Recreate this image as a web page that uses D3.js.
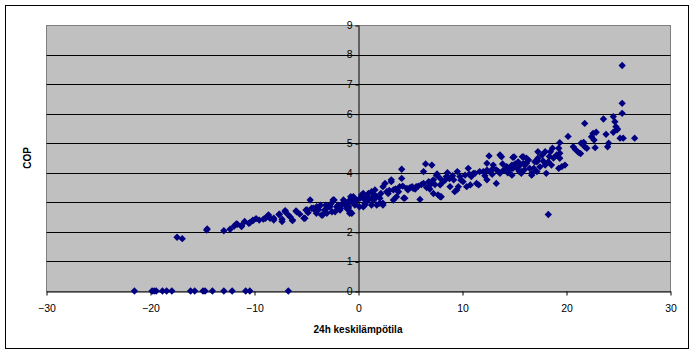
<!DOCTYPE html>
<html>
<head>
<meta charset="utf-8">
<script src="https://cdn.jsdelivr.net/npm/d3@7"></script>
<style>
	body { margin: 0; background: #fff; }
	text { font-family: "Liberation Sans", Arial, sans-serif; }
</style>
</head>
<body>
<div id="chart"></div>
<script>
// days where the pump reported nothing (COP 0)
var zeroTemp = [-21.5, -19.8, -19.6, -19.4, -18.8, -18.4, -17.9, -16.1, -15.7, -14.9, -14.7, -14.0, -12.9, -12.1, -10.8, -10.4, -6.7];

var coldTemp = [-17.4, -16.9, -14.55, -14.5, -12.9, -12.3, -11.9, -11.7, -11.6, -11.2, -11.2, -10.9, -10.5, -10.4, -10.1, -10.1,
	-9.1, -8.9, -8.7, -8.6, -8.46, -8.1, -8.1, -7.6, -7.55, -7.3, -7.3, -7.0, -7.0, -6.7, -6.3, -6.3, -5.96, -5.9, -5.2, -5.1,
	-5.0, -4.9, -4.8, -4.6, -4.45, -4.3, -4.1, -4.0, -3.97, -3.5, -3.4, -3.2, -3.0, -2.85, -2.7, -2.5, -2.4, -2.3, -2.2, -2.05,
	-1.73, -1.7, -1.4, -1.5, -1.25, -1.1, -0.93, -0.93, -0.9, -0.8, -0.77, -0.77, -0.7, -0.6, -0.45, -0.3, -0.29, -0.13,
	-3.8, -3.6, -3.1, -2.6, -1.9, -1.2, -0.5, -6.5, -5.6, -9.5, -9.8];
var coldCop = [1.82, 1.77, 2.06, 2.1, 2.04, 2.09, 2.2, 2.27, 2.26, 2.18, 2.22, 2.35, 2.29, 2.31, 2.38, 2.4,
	2.43, 2.46, 2.54, 2.57, 2.46, 2.4, 2.46, 2.59, 2.6, 2.43, 2.35, 2.68, 2.72, 2.57, 2.4, 2.38, 2.71, 2.68, 2.46, 2.46,
	2.74, 2.74, 2.65, 3.08, 2.8, 2.8, 2.72, 2.63, 2.85, 2.57, 2.57, 2.74, 2.63, 2.85, 2.85, 2.68, 3.08, 3.08, 2.68, 2.85,
	2.74, 2.8, 3.08, 2.95, 3.02, 2.8, 2.8, 2.97, 2.85, 2.63, 2.68, 3.08, 3.19, 2.63, 3.19, 2.91, 3.02, 3.08,
	2.75, 2.9, 2.9, 2.95, 2.9, 2.9, 3.0, 2.5, 2.6, 2.4, 2.45];

var mildTemp = [0.13, 0.2, 0.35, 0.35, 0.5, 0.51, 0.67, 0.67, 0.67, 1.0, 1.0, 1.3, 1.3, 1.3, 1.5, 1.63, 1.8, 1.8, 2.1, 2.1,
	2.4, 2.4, 2.4, 2.6, 2.76, 2.9, 3.2, 3.2, 3.4, 3.4, 3.7, 3.9, 4.0, 4.2, 4.2, 4.4, 4.5, 4.7, 4.8, 5.2,
	5.3, 5.5, 5.6, 5.96, 6.3, 6.3, 6.5, 6.77, 6.8, 7.1, 7.1, 7.25, 7.25, 7.55, 7.6, 7.7, 7.9, 7.9,
	7.9, 8.0, 8.4, 8.5, 8.6, 8.85, 9.2, 9.3, 9.5, 9.55, 9.65, 9.8, 10.1, 10.3, 10.45, 10.6, 10.8, 10.9, 11.1, 11.25,
	0.9, 1.6, 2.2, 3.0, 3.6, 5.0, 5.8, 6.1, 6.6, 7.4, 8.2, 8.8, 9.1, 9.9, 10.7, 4.3, 6.9];
var mildCop = [2.85, 3.14, 3.25, 3.19, 3.3, 2.85, 3.08, 2.97, 2.91, 3.3, 3.08, 3.14, 3.36, 2.91, 3.08, 3.42, 2.91, 3.19, 3.14, 2.97,
	2.91, 3.53, 2.97, 3.64, 3.36, 3.3, 3.76, 3.7, 3.42, 3.08, 3.19, 3.36, 3.53, 3.81, 4.12, 3.14, 3.14, 3.47, 3.42, 3.53,
	3.47, 3.45, 3.53, 3.1, 4.04, 3.64, 4.3, 3.53, 3.7, 4.26, 3.64, 3.76, 3.3, 3.92, 3.96, 3.25, 3.59, 3.19,
	3.81, 3.19, 3.76, 3.87, 4.0, 3.53, 3.76, 3.36, 3.42, 4.04, 3.53, 3.87, 3.7, 3.92, 3.53, 4.15, 3.59, 3.87, 3.98, 3.98,
	3.2, 3.25, 3.3, 3.4, 3.45, 3.5, 3.55, 3.6, 3.5, 3.6, 3.7, 3.8, 3.9, 3.75, 3.95, 3.55, 3.45];

var warmTemp = [11.4, 11.6, 11.7, 12.05, 12.4, 12.4, 12.4, 12.6, 12.7, 13.0, 13.0, 13.3, 13.5, 13.65, 13.65, 13.8, 14.0, 14.3, 14.4, 14.8,
	14.8, 14.9, 14.9, 15.0, 15.3, 15.4, 15.6, 15.7, 15.7, 15.8, 15.9, 15.9, 16.06, 16.2, 16.2, 16.4, 16.7, 16.7, 16.9, 17.0,
	17.2, 17.2, 17.2, 17.3, 17.3, 17.7, 18.0, 18.0, 18.1, 18.3, 18.3, 18.5, 18.6, 18.7, 19.1, 19.3, 19.3, 19.4, 19.4, 19.4,
	19.6, 19.9, 20.2, 20.7, 20.9, 21.2, 21.4, 21.45, 21.7, 21.8, 21.8, 22.0, 22.45, 22.6, 22.7, 22.8, 22.9, 23.6, 23.85, 24.0,
	24.1, 24.55, 24.55, 24.7, 24.8, 24.9, 24.95, 25.2, 25.4, 25.4, 25.4, 25.5, 26.6,
	12.2, 12.9, 13.3, 14.6, 15.1, 15.5, 16.0, 16.5, 17.5, 17.8, 18.8, 18.4, 13.9];
var warmCop = [3.64, 3.59, 4.04, 4.04, 4.32, 3.76, 4.09, 4.57, 4.04, 4.26, 4.15, 3.64, 4.04, 4.6, 3.98, 4.54, 4.09, 4.21, 4.0, 4.26,
	3.92, 4.52, 4.15, 4.54, 4.15, 4.37, 4.26, 4.04, 3.98, 4.54, 4.54, 4.32, 4.26, 4.49, 4.32, 4.43, 3.92, 3.98, 4.15, 4.37,
	4.43, 4.04, 4.37, 4.71, 4.49, 4.6, 4.71, 4.26, 3.98, 4.37, 2.59, 4.71, 4.26, 4.83, 4.6, 4.83, 4.15, 5.02, 4.66, 4.49,
	4.21, 4.26, 5.23, 4.88, 4.79, 4.69, 4.65, 5.0, 5.03, 4.88, 5.67, 4.83, 5.22, 5.33, 5.11, 4.85, 5.37, 5.82, 5.3, 4.88,
	5.0, 5.9, 5.37, 5.73, 5.56, 5.45, 5.48, 5.17, 6.01, 6.35, 7.63, 5.17, 5.17,
	3.9, 3.95, 4.1, 4.1, 4.3, 4.05, 4.1, 4.15, 4.2, 4.4, 4.5, 4.55, 4.3];

var xTicks = [-30, -20, -10, 0, 10, 20, 30];
var yTicks = [0, 1, 2, 3, 4, 5, 6, 7, 8, 9];
var xTitle = '24h keskilämpötila';
var yTitle = 'COP';

var svgWidth = 695;
var svgHeight = 354;
var plot = { left: 46, top: 25, right: 670, bottom: 291 };

function createSvg(parent, height, width) {
	return d3.select(parent)
			 .append('svg')
			 .attr('height', height)
			 .attr('width', width)
			 .style('display', 'block');
}

var svg = createSvg('div#chart', svgHeight, svgWidth);

var points = [];
zeroTemp.forEach(function (t) { points.push({ t: t, c: 0 }); });
[[coldTemp, coldCop], [mildTemp, mildCop], [warmTemp, warmCop]].forEach(function (pair) {
	pair[0].forEach(function (t, i) { points.push({ t: t, c: pair[1][i] }); });
});

var x = d3.scaleLinear().domain([-30, 30]).range([plot.left, plot.right]);
var y = d3.scaleLinear().domain([0, 9]).range([plot.bottom, plot.top]);

// outer chart frame
svg.append('rect')
   .attr('x', 5.5).attr('y', 5.5)
   .attr('width', 683).attr('height', 343)
   .attr('fill', '#fff')
   .attr('stroke', '#000');

// plot area
svg.append('rect')
   .attr('x', plot.left + 0.5).attr('y', plot.top + 0.5)
   .attr('width', plot.right - plot.left).attr('height', plot.bottom - plot.top)
   .attr('fill', '#c0c0c0')
   .attr('stroke', '#808080');

svg.append('g')
   .selectAll('line')
   .data(yTicks.slice(1, -1))
   .enter()
   .append('line')
   .attr('x1', plot.left + 0.5)
   .attr('x2', plot.right + 0.5)
   .attr('y1', function (d) { return Math.round(y(d)) + 0.5; })
   .attr('y2', function (d) { return Math.round(y(d)) + 0.5; })
   .attr('stroke', '#000');

// x axis along COP = 0, y axis along 0 degrees
var xAxis = svg.append('g')
   .attr('transform', 'translate(0.5,' + (y(0) + 0.5) + ')')
   .call(d3.axisBottom(x).tickValues(xTicks).tickSize(4).tickPadding(9).tickSizeOuter(0));

var yAxis = svg.append('g')
   .attr('transform', 'translate(' + (Math.round(x(0)) + 0.5) + ',0)')
   .call(d3.axisLeft(y).tickValues(yTicks).tickSize(3).tickPadding(3).tickSizeOuter(0));

yAxis.selectAll('.tick line').attr('transform', 'translate(0,0.5)');

[xAxis, yAxis].forEach(function (a) {
	a.select('.domain').attr('stroke', '#000');
	a.selectAll('.tick line').attr('stroke', '#000');
	a.selectAll('.tick text')
	 .attr('fill', '#000')
	 .style('font-family', '"Liberation Sans", Arial, sans-serif')
	 .style('font-size', '10.5px');
});

svg.append('g')
   .selectAll('path')
   .data(points)
   .enter()
   .append('path')
   .attr('d', d3.symbol().type(d3.symbolSquare).size(27))
   .attr('transform', function (d) {
      return 'translate(' + x(d.t) + ',' + y(d.c) + ') rotate(45)';
   })
   .attr('fill', '#000080');

svg.append('text')
   .attr('x', 358)
   .attr('y', 333)
   .attr('text-anchor', 'middle')
   .style('font-size', '10px')
   .style('font-weight', 'bold')
   .text(xTitle);

svg.append('text')
   .attr('transform', 'translate(31,158) rotate(-90)')
   .attr('text-anchor', 'middle')
   .style('font-size', '10px')
   .style('font-weight', 'bold')
   .text(yTitle);
</script>
</body>
</html>
